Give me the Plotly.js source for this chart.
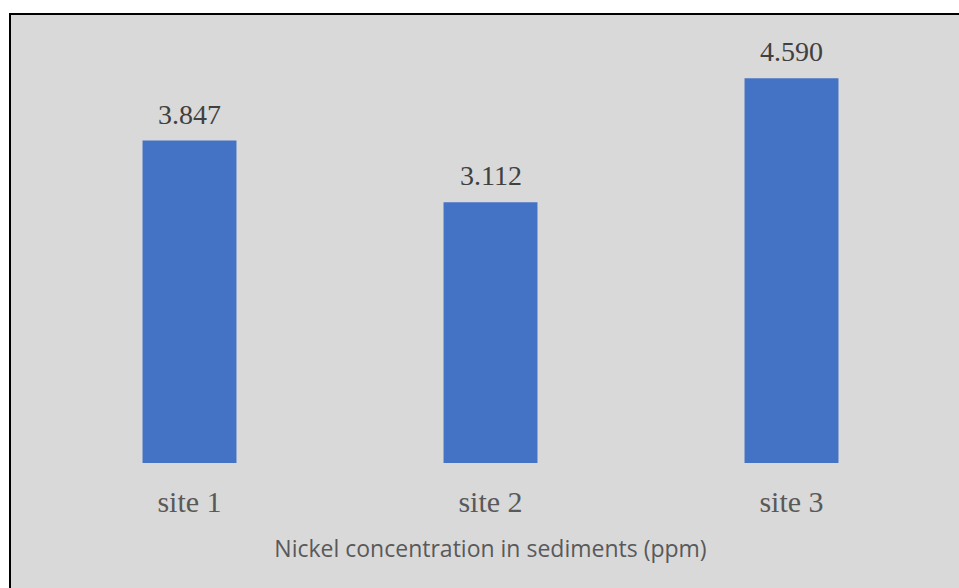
<!DOCTYPE html>
<html>
<head>
<meta charset="utf-8">
<script src="https://cdn.plot.ly/plotly-3.0.1.min.js"></script>
<style>
  html, body { margin: 0; padding: 0; background: #ffffff; width: 959px; height: 588px; overflow: hidden; }
  #frame { position: absolute; left: 9px; top: 13px; width: 948px; height: 573px;
           border-left: 2px solid #000; border-top: 2px solid #000; background: #d9d9d9; }
  #chart { width: 948px; height: 573px; }
</style>
</head>
<body>
<div id="frame"><div id="chart"></div></div>
<script>
const categories = ["site 1", "site 2", "site 3"];
const nickelValues = [3.847, 3.112, 4.590];
const valueLabels = ["3.847", "3.112", "4.590"];
const xAxisTitle = "Nickel concentration in sediments (ppm)";

const trace = {
  type: "bar",
  x: categories,
  y: nickelValues,
  marker: { color: "#4472c4", line: { width: 0 } },
  width: 0.312,
  hoverinfo: "none"
};

const annotations = categories.map((c, i) => ({
  x: c,
  y: nickelValues[i],
  xref: "x",
  yref: "y",
  text: valueLabels[i],
  showarrow: false,
  yanchor: "bottom",
  xanchor: "center",
  yshift: 9,
  font: { family: "Liberation Serif, Times New Roman, serif", size: 28, color: "#404040" }
}));

const layout = {
  width: 948,
  height: 573,
  margin: { l: 28, r: 17, t: 29, b: 125 },
  paper_bgcolor: "#d9d9d9",
  plot_bgcolor: "#d9d9d9",
  showlegend: false,
  annotations: annotations,
  xaxis: {
    type: "category",
    range: [-0.5, 2.5],
    showgrid: false,
    zeroline: false,
    showline: false,
    ticks: "",
    ticklabelstandoff: 18,
    tickfont: { family: "Liberation Serif, Times New Roman, serif", size: 30, color: "#595959" },
    title: { text: xAxisTitle, standoff: 23,
             font: { family: "Open Sans, Noto Sans, sans-serif", size: 23, color: "#595959" } }
  },
  yaxis: {
    range: [0, 5],
    visible: false,
    showgrid: false,
    zeroline: false
  }
};

Plotly.newPlot("chart", [trace], layout, { displayModeBar: false, staticPlot: true });
</script>
</body>
</html>
